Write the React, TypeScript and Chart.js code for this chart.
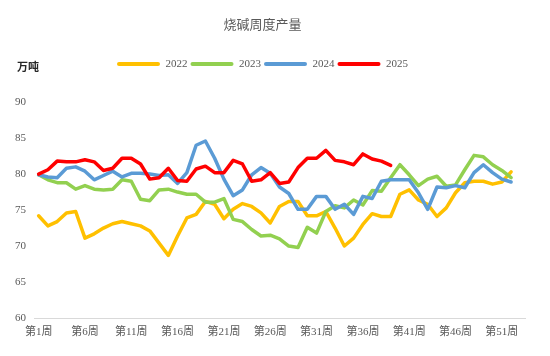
import React, { useEffect, useRef } from "react";
import { Chart, registerables } from "chart.js";

Chart.register(...registerables);

const weeks: string[] = Array.from({ length: 53 }, (_, i) => `第${i + 1}周`);
const seriesNames = ["2022", "2023", "2024", "2025"];
const seriesColors = ["#FFC000", "#92D050", "#5B9BD5", "#FF0000"];

const y2022 = [74.2, 72.8, 73.4, 74.6, 74.8, 71.1, 71.7, 72.5, 73.1, 73.4, 73.1, 72.8, 72.1, 70.4, 68.7, 71.4, 73.9, 74.4, 76.2, 75.8, 73.8, 75.1, 75.9, 75.5, 74.6, 73.2, 75.5, 76.2, 76.2, 74.2, 74.2, 74.8, 72.5, 70.0, 71.1, 73.0, 74.5, 74.1, 74.1, 77.2, 77.8, 76.4, 75.8, 74.1, 75.3, 77.4, 78.8, 79.0, 79.0, 78.6, 78.9, 80.3];
const y2023 = [79.9, 79.2, 78.8, 78.8, 77.9, 78.4, 77.9, 77.8, 77.9, 79.2, 79.0, 76.5, 76.3, 77.8, 77.9, 77.5, 77.2, 77.2, 76.1, 76.1, 76.6, 73.7, 73.4, 72.3, 71.4, 71.5, 71.0, 70.0, 69.8, 72.6, 71.8, 74.8, 75.6, 75.3, 76.4, 75.7, 77.7, 77.6, 79.5, 81.3, 79.9, 78.4, 79.3, 79.7, 78.3, 78.5, 80.6, 82.6, 82.4, 81.3, 80.5, 79.5];
const y2024 = [79.9, 79.6, 79.5, 80.8, 81.0, 80.4, 79.2, 79.8, 80.4, 79.6, 80.1, 80.1, 80.0, 79.8, 79.9, 78.7, 80.2, 84.0, 84.6, 82.2, 79.3, 77.0, 77.8, 79.9, 80.9, 80.1, 78.2, 77.3, 75.1, 75.1, 76.9, 76.9, 75.1, 75.8, 74.4, 76.9, 76.6, 79.0, 79.2, 79.2, 79.2, 77.4, 75.1, 78.2, 78.1, 78.4, 78.1, 80.2, 81.3, 80.2, 79.3, 78.9];
const y2025 = [80.0, 80.6, 81.8, 81.7, 81.7, 82.0, 81.7, 80.5, 80.8, 82.2, 82.2, 81.4, 79.3, 79.5, 80.8, 79.1, 79.0, 80.7, 81.1, 80.2, 80.2, 81.9, 81.4, 79.0, 79.2, 80.2, 78.7, 78.9, 80.9, 82.2, 82.2, 83.3, 81.9, 81.7, 81.3, 82.8, 82.1, 81.8, 81.2];

const yMin = 60;
const yMax = 90;
const yStep = 5;

const titleText = "烧碱周度产量";
const unitText = "万吨";

const FONT = "'Liberation Serif', 'Noto Sans CJK SC', serif";

export default function App() {
  const ref = useRef<HTMLCanvasElement | null>(null);

  useEffect(() => {
    if (!ref.current) return;
    const allSeries = [y2022, y2023, y2024, y2025];
    const unitPlugin = {
      id: "unitLabel",
      afterDraw(chart: any) {
        const { ctx, chartArea } = chart;
        ctx.save();
        ctx.font = `bold 11px ${FONT}`;
        ctx.fillStyle = "#262626";
        ctx.textAlign = "left";
        ctx.textBaseline = "middle";
        ctx.fillText(unitText, chartArea.left - 17, chartArea.top - 34);
        ctx.restore();
      },
    };
    const chart = new Chart(ref.current, {
      type: "line",
      data: {
        labels: weeks,
        datasets: allSeries.map((d, i) => ({
          label: seriesNames[i],
          data: d,
          borderColor: seriesColors[i],
          backgroundColor: seriesColors[i],
          borderWidth: 3.5,
          pointRadius: 0,
          pointHoverRadius: 0,
          tension: 0,
          fill: false,
          borderJoinStyle: "round" as const,
          borderCapStyle: "round" as const,
          order: 4 - i,
        })),
      },
      options: {
        responsive: false,
        animation: false,
        devicePixelRatio: 1,
        layout: { padding: { top: 0, left: 0, right: 25, bottom: 0 } },
        plugins: {
          title: {
            display: true,
            text: titleText,
            color: "#595959",
            font: { family: FONT, size: 13, weight: "normal", lineHeight: 1.2 },
            padding: { top: 18, bottom: 22 },
          },
          subtitle: {
            display: true,
            text: "",
            weight: 500,
            font: { size: 10, lineHeight: 1 },
            padding: { top: 0, bottom: 12.5 },
          } as any,
          legend: {
            display: true,
            position: "top",
            labels: {
              boxWidth: 43,
              boxHeight: 4,
              padding: 3,
              color: "#595959",
              font: { family: FONT, size: 11 },
              useBorderRadius: true,
              borderRadius: 2,
              sort: (a: any, b: any) => a.datasetIndex - b.datasetIndex,
              generateLabels: (c: any) =>
                Chart.defaults.plugins.legend.labels
                  .generateLabels(c)
                  .map((l: any) => ({ ...l, lineWidth: 0 })),
            },
          } as any,
          tooltip: { enabled: false },
        },
        scales: {
          x: {
            type: "category",
            offset: true,
            grid: { display: false, drawTicks: false },
            border: { display: true, color: "#D9D9D9", width: 1 },
            ticks: {
              autoSkip: false,
              maxRotation: 0,
              minRotation: 0,
              padding: 8,
              color: "#595959",
              font: { family: FONT, size: 11 },
              callback: (_v: any, i: number) => (i % 5 === 0 ? weeks[i] : ""),
            },
            afterFit: (s: any) => {
              s.height = 38;
            },
          },
          y: {
            min: yMin,
            max: yMax,
            grid: { display: false, drawTicks: false },
            border: { display: false },
            ticks: {
              stepSize: yStep,
              padding: 8,
              color: "#595959",
              font: { family: FONT, size: 11 },
            },
            afterFit: (s: any) => {
              s.width = 34;
            },
          },
        },
      },
      plugins: [unitPlugin],
    });
    return () => chart.destroy();
  }, []);

  return (
    <div style={{ position: "absolute", left: 0, top: 0, width: 550, height: 356, background: "#fff" }}>
      <canvas ref={ref} width={550} height={356} />
    </div>
  );
}
